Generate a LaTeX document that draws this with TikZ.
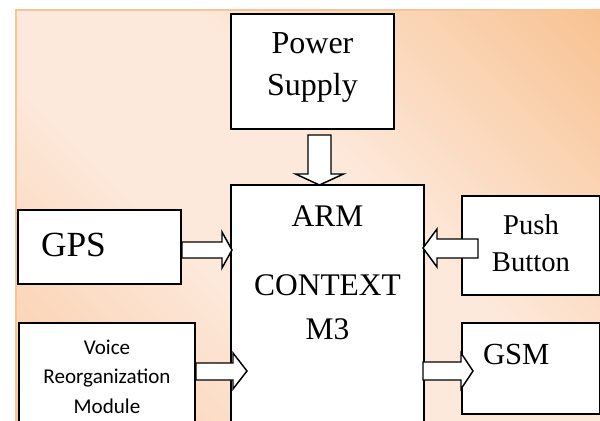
\documentclass[tikz,border=0pt]{standalone}
\usepackage{fontspec}
\setmainfont{Liberation Serif}
\newfontfamily\calibri{Carlito}
\definecolor{bgdark}{RGB}{247,190,138}
\definecolor{bglight}{RGB}{253,233,219}
\definecolor{bgmid}{RGB}{249,200,160}
\definecolor{bgedge}{RGB}{248,196,150}
\pgfdeclarehorizontalshading{panelshade}{100bp}{color(0bp)=(bgmid); color(12bp)=(bgmid);
  color(40bp)=(bglight); color(56bp)=(bglight); color(88bp)=(bgdark); color(100bp)=(bgdark)}
\begin{document}
\begin{tikzpicture}[x=0.75pt,y=-0.75pt,
  block/.style={draw=black,line width=1.5pt,fill=white,inner sep=0pt,align=center,anchor=north west},
  fatarrow/.style={draw=black,line width=1.1pt,fill=white,line join=miter}]
\useasboundingbox (0,0) rectangle (600,421);
\clip (0,0) rectangle (600,421);

% Background panel
\shade[shading=panelshade,shading angle=45] (16,10) rectangle (610,440);
\draw[bgedge,line width=0.8pt] (16,440) -- (16,10) -- (610,10);

% Blocks
\node[block,minimum width=122.25pt,minimum height=86.25pt,font=\fontsize{24}{31.5}\selectfont,
  text height=35.25pt,text depth=0pt] (power) at (230,13) {Power\\Supply};
\node[block,minimum width=144.75pt,minimum height=222pt,font=\fontsize{23.6}{33}\selectfont,
  text height=9pt,text depth=0pt] (arm) at (230,184) {ARM\\[18.75pt]CONTEXT\\M3};
\node[block,minimum width=122.25pt,minimum height=55.5pt,font=\fontsize{26.5}{32}\selectfont,
  inner xsep=17.25pt,text width=87.75pt,align=left,text height=13.5pt,text depth=0pt] (gps) at (17,209) {GPS};
\node[block,minimum width=132pt,minimum height=118.5pt,font=\calibri\fontsize{15.8}{22.1}\selectfont,
  text height=16.5pt,text depth=0pt] (voice) at (18,322) {Voice\\Reorganization\\Module};
\node[block,minimum width=103.5pt,minimum height=74.25pt,font=\fontsize{21.5}{27.75}\selectfont,
  text height=38.25pt,text depth=0pt] (push) at (461,195) {Push\\Button};
\node[block,minimum width=103.5pt,minimum height=68.25pt,font=\fontsize{23}{28}\selectfont,
  inner xsep=15.75pt,text width=72pt,align=left,text height=0pt,text depth=6.75pt] (gsm) at (461,322) {GSM};

% Block arrows between the blocks
\filldraw[fatarrow] (power.south) ++(-4.5,5) -- ++(23,0) -- ++(0,39) -- ++(12.5,0) -- ++(-24,11) -- ++(-24,-11) -- ++(12.5,0) -- cycle;
\filldraw[fatarrow] (gps.east) ++(0,-5) -- ++(40,0) -- ++(0,-10) -- ++(10,18) -- ++(-10,18) -- ++(0,-10) -- ++(-40,0) -- cycle;
\filldraw[fatarrow] (voice.east) ++(0,-39) -- ++(37,0) -- ++(0,-10) -- ++(14,18) -- ++(-14,18) -- ++(0,-9) -- ++(-37,0) -- cycle;
\filldraw[fatarrow] (push.west) ++(17,-6.5) -- ++(-41,0) -- ++(0,-10) -- ++(-14,19) -- ++(14,19) -- ++(0,-9) -- ++(41,0) -- cycle;
\filldraw[fatarrow] (gsm.west) ++(-38,-6.5) -- ++(38,0) -- ++(0,-9) -- ++(12,18) -- ++(-12,18) -- ++(0,-9) -- ++(-38,0) -- cycle;
\end{tikzpicture}
\end{document}
